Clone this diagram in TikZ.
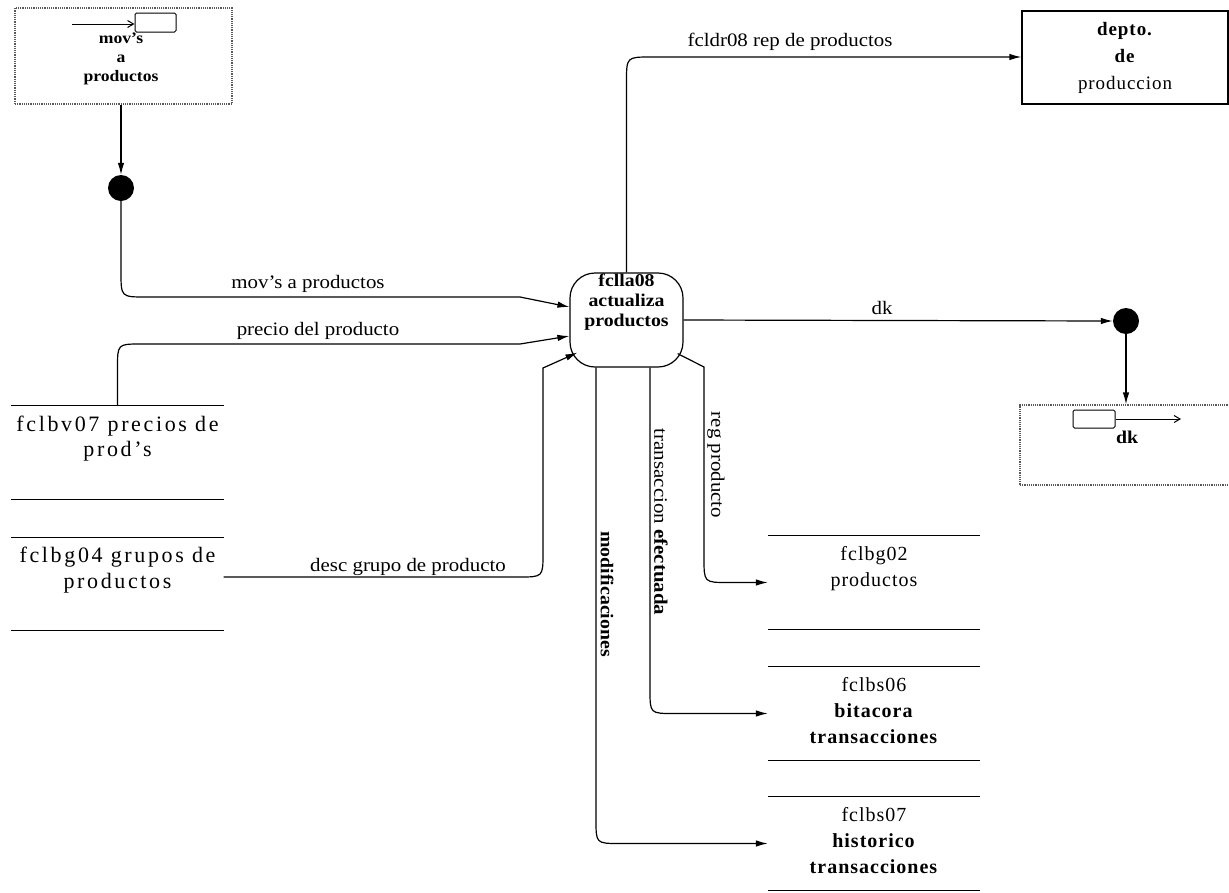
\documentclass[tikz,border=0pt]{standalone}
\usepackage{fontspec}
\setmainfont{Liberation Serif}
\newfontfamily\labf[FakeStretch=1.1]{Liberation Serif}
\newfontfamily\stf[LetterSpace=12]{Liberation Serif}
\newfontfamily\stg[LetterSpace=5]{Liberation Serif}
\usetikzlibrary{arrows.meta,calc}
\newcommand{\stxt}[1]{\parbox[c][93pt][t]{212pt}{\centering\vspace*{10pt}#1}}
\tikzset{
  arr/.style={line width=1.2pt, -{Latex[length=12pt,width=6.5pt]}},
  thinarr/.style={line width=1pt, -{Straight Barb[length=6pt,width=7pt]}},
  lab/.style={font=\labf\fontsize{19}{21}\selectfont, inner sep=1pt},
  proc/.style={draw, line width=1.2pt, rounded corners=25pt, minimum width=113pt, minimum height=94pt},
  proctext/.style={font=\labf\bfseries\fontsize{18}{20}\selectfont, align=center, inner sep=0pt},
  store/.style={inner sep=0pt, font=\stf\fontsize{22}{25}\selectfont},
  rstore/.style={inner sep=0pt, font=\stg\fontsize{20}{26}\selectfont},
  storeline/.style={line width=1.2pt},
  dotbox/.style={draw=black!65, densely dotted, line width=1.2pt},
  smallrect/.style={draw, line width=1pt, rounded corners=1.5pt},
  exttext/.style={font=\labf\bfseries\fontsize{16}{19}\selectfont, align=center, inner sep=0pt},
  term/.style={draw, line width=1.2pt, minimum width=206pt, minimum height=93pt, inner sep=0pt, align=center, font=\stg\fontsize{19}{27}\selectfont},
  blob/.style={circle, fill=black, minimum size=26pt, inner sep=0pt}
}
\begin{document}
\begin{tikzpicture}[x=1pt,y=-1pt]
\useasboundingbox (0,0) rectangle (1229,892);
\clip (0,0) rectangle (1229,892);

% process
\node[proc] (p) at (626.5,320) {};
\node[proctext] (ptx) at (626.5,302) {fclla08\\actualiza\\productos};

% external source top-left
\node[dotbox, minimum width=217pt, minimum height=96pt] (tb) at (123.5,56) {};
\node[smallrect, minimum width=41pt, minimum height=19pt] (tbr) at (155.5,22.5) {};
\coordinate (tbin) at (72,24);
\draw[thinarr] (tbin) -- (tbr.west |- tbin);
\node[exttext] (tbt) at (121,59) {mov’s\\a\\productos};

% join point 1
\node[blob] (c1) at (121,188) {};
\draw[arr] (c1 |- tb.south) -- (c1.north);

% terminator depto
\node[term] (dep) at (1125,57.5) {\textbf{depto.}\\\textbf{de}\\produccion};

% external sink bottom-right
\node[dotbox, minimum width=220pt, minimum height=80pt] (bb) at (1130,445) {};
\node[smallrect, minimum width=42pt, minimum height=18pt] (bbr) at (1094,419) {};
\coordinate (bbout) at (1181,419);
\draw[thinarr] (bbr.east) -- (bbout);
\node[lab, font=\labf\bfseries\fontsize{18}{19}\selectfont] (bbl) at (1127,437) {dk};

% join point 2
\node[blob] (c2) at (1126,321) {};

% stores
\node[store] (s1) at (117.5,452.5) {\stxt{fclbv07 precios de\\prod’s}};
\node[store] (s2) at (117.5,584) {\stxt{fclbg04 grupos de\\productos}};
\node[rstore] (s3) at (874,582.5) {\stxt{fclbg02\\productos}};
\node[rstore] (s4) at (874,713.5) {\stxt{fclbs06\\\textbf{bitacora}\\\textbf{transacciones}}};
\node[rstore] (s5) at (874,843.5) {\stxt{fclbs07\\\textbf{historico}\\\textbf{transacciones}}};
\foreach \s in {s1,s2,s3,s4,s5}
  \draw[storeline] (\s.north west) -- (\s.north east) (\s.south west) -- (\s.south east);

% connection points on the process
\coordinate (pin1) at ($(p.west)+(0,-13)$);
\coordinate (pin2) at ($(p.west)+(0,16)$);
\coordinate (pll) at ($(p.south west)+(8,-15)$);
\coordinate (plr) at ($(p.south east)+(-6,-14)$);
\coordinate (pm) at ($(p.south)+(-30.5,0)$);
\coordinate (pt) at ($(p.south)+(23.5,0)$);

% flows
\draw[arr] (c1.south) -- (121,272) .. controls (121,297) .. (146,297) -- (520,297) -- (pin1);
\node[lab] (l1) at (308,284) {mov’s a productos};

\draw[arr] (s1.north) -- (117.5,368) .. controls (117.5,344) .. (141,344) -- (520,344) -- (pin2);
\node[lab] (l2) at (318,331) {precio del producto};

\draw[arr] ($(s2.east)+(0,-7)$) -- (519,577) .. controls (543,577) .. (543,553) -- (543,368) -- (pll);
\node[lab] (l3) at (408,567) {desc grupo de producto};

\draw[arr] (p.north) -- (626.5,82) .. controls (626.5,57) .. (651,57) -- (dep.west |- 0,57);
\node[lab] (l4) at (790,42) {fcldr08 rep de productos};

\draw[arr] (p.east) -- (c2.west);
\node[lab] (l5) at (882,308) {dk};
\draw[arr] (c2.south) -- (c2.south |- bb.north);

\draw[arr] (plr) -- (704,367) -- (704,558) .. controls (704,582.5) .. (728,582.5) -- (s3.west);
\node[lab, rotate=-90] (l6) at (716,465) {reg producto};

\draw[arr] (pt) -- (650,690) .. controls (650,713.5) .. (674,713.5) -- (s4.west);
\node[lab, rotate=-90] (l7) at (661,522) {transaccion \textbf{efectuada}};

\draw[arr] (pm) -- (596,820) .. controls (596,843.5) .. (620,843.5) -- (s5.west);
\node[lab, rotate=-90, font=\labf\bfseries\fontsize{18}{19}\selectfont] (l8) at (607,594) {modificaciones};
\end{tikzpicture}
\end{document}
